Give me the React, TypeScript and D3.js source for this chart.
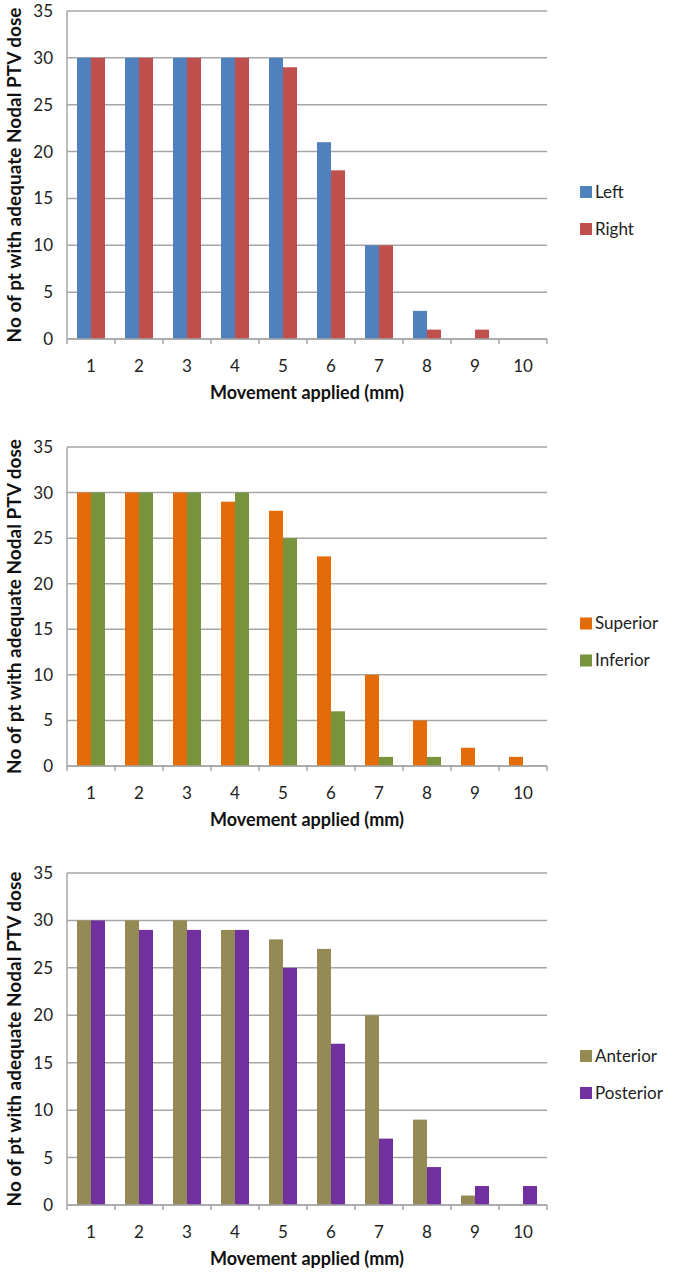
import React, { useEffect } from 'react';
import * as d3 from 'd3';

const categories = ['1', '2', '3', '4', '5', '6', '7', '8', '9', '10'];
const yTicks = [0, 5, 10, 15, 20, 25, 30, 35];

const leftValues = [30, 30, 30, 30, 30, 21, 10, 3, 0, 0];
const rightValues = [30, 30, 30, 30, 29, 18, 10, 1, 1, 0];
const superiorValues = [30, 30, 30, 29, 28, 23, 10, 5, 2, 1];
const inferiorValues = [30, 30, 30, 30, 25, 6, 1, 1, 0, 0];
const anteriorValues = [30, 30, 30, 29, 28, 27, 20, 9, 1, 0];
const posteriorValues = [30, 29, 29, 29, 25, 17, 7, 4, 2, 2];

const yTitle = 'No of pt with adequate Nodal PTV dose';
const xTitle = 'Movement applied (mm)';

interface Series {
    name: string;
    color: string;
    values: number[];
}

interface PanelProps {
    top: number;
    bottom: number;
    series: Series[];
}

const FONT = 'Lato, "Open Sans", sans-serif';
const plotLeft = 67;
const plotRight = 547;

const Panel: React.FC<PanelProps> = ({ top, bottom, series }) => {
    const x = d3.scaleBand().domain(categories).range([plotLeft, plotRight]);
    const y = d3.scaleLinear().domain([0, 35]).range([bottom, top]);
    const barW = 14;
    const mid = (top + bottom) / 2;

    return (
        <g>
            {/* gridlines */}
            {yTicks.map(t => (
                <line key={'g' + t} x1={plotLeft} x2={plotRight} y1={y(t)} y2={y(t)}
                    stroke="#a6a6a6" strokeWidth={1.5} />
            ))}
            {/* bars */}
            {series.map((s, si) =>
                s.values.map((v, i) => {
                    const cx = (x(categories[i]) || 0) + x.bandwidth() / 2;
                    const bx = cx - barW * series.length / 2 + si * barW;
                    return (
                        <rect key={s.name + i} x={bx} y={y(v)} width={barW}
                            height={bottom - y(v)} fill={s.color} />
                    );
                })
            )}
            {/* axes */}
            <line x1={plotLeft} x2={plotLeft} y1={top} y2={bottom} stroke="#a6a6a6" strokeWidth={1.5} />
            <line x1={plotLeft} x2={plotRight} y1={bottom} y2={bottom} stroke="#a6a6a6" strokeWidth={1.5} />
            {categories.map((c, i) => (
                <line key={'t' + c} x1={plotLeft + i * x.bandwidth()} x2={plotLeft + i * x.bandwidth()}
                    y1={bottom} y2={bottom + 5} stroke="#a6a6a6" strokeWidth={1.5} />
            ))}
            <line x1={plotRight} x2={plotRight} y1={bottom} y2={bottom + 5} stroke="#a6a6a6" strokeWidth={1.5} />
            {yTicks.map(t => (
                <text key={'yl' + t} x={53} y={y(t)} dy="0.35em" textAnchor="end"
                    fontSize={17} fill="#222" fontFamily={FONT}>{t}</text>
            ))}
            {categories.map(c => (
                <text key={'xl' + c} x={(x(c) || 0) + x.bandwidth() / 2} y={bottom + 27} dy="0.35em"
                    textAnchor="middle" fontSize={17} fill="#222" fontFamily={FONT}>{c}</text>
            ))}
            <text x={(plotLeft + plotRight) / 2} y={bottom + 54} dy="0.35em" textAnchor="middle"
                fontSize={18} fontWeight="bold" fill="#111" fontFamily={FONT}>{xTitle}</text>
            <text transform={`translate(14,${mid}) rotate(-90)`} dy="0.35em" textAnchor="middle"
                fontSize={19} fontWeight="bold" fill="#111" fontFamily={FONT}>{yTitle}</text>
            {/* legend */}
            {series.map((s, si) => (
                <g key={'lg' + s.name} transform={`translate(580,${mid + 17 + si * 37})`}>
                    <rect x={0} y={-6} width={12} height={12} fill={s.color} />
                    <text x={15} y={0} dy="0.35em" fontSize={17} fill="#222" fontFamily={FONT}>{s.name}</text>
                </g>
            ))}
        </g>
    );
};

const App: React.FC = () => {
    useEffect(() => {
        document.body.style.margin = '0';
    }, []);
    return (
        <svg width={674} height={1273} style={{ display: 'block', background: '#fff' }}>
            <Panel top={11} bottom={339} series={[
                { name: 'Left', color: '#4f81bd', values: leftValues },
                { name: 'Right', color: '#c0504d', values: rightValues },
            ]} />
            <Panel top={447} bottom={766} series={[
                { name: 'Superior', color: '#e36c09', values: superiorValues },
                { name: 'Inferior', color: '#77933c', values: inferiorValues },
            ]} />
            <Panel top={873} bottom={1205} series={[
                { name: 'Anterior', color: '#948a54', values: anteriorValues },
                { name: 'Posterior', color: '#7030a0', values: posteriorValues },
            ]} />
        </svg>
    );
};

export default App;
